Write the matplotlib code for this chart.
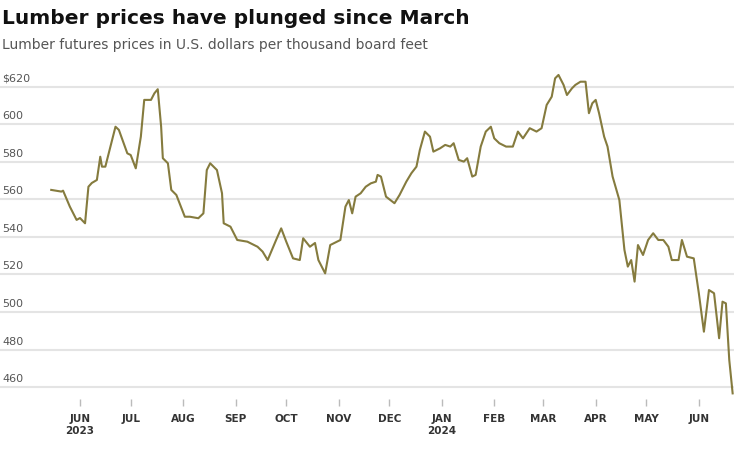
import pandas as pd
import matplotlib.pyplot as plt
import matplotlib.transforms as mtransforms

# Dados (dias desde 1 jun 2023, preco em US$ por mil pes de tabua)
start = pd.Timestamp('2023-06-01')
days = [-17, -11, -10, -6, -2, 0, 3, 5, 7, 10, 12, 13, 15, 18, 21, 23, 28, 30, 33, 36,
        38, 42, 44, 46, 48, 49, 52, 54, 57, 62, 65, 70, 73, 75, 77, 79, 81, 84, 85, 89,
        93, 99, 105, 108, 111, 116, 119, 122, 126, 130, 132, 136, 139, 141, 145, 148, 152, 154, 157, 159,
        161, 163, 166, 169, 172, 175, 176, 178, 181, 186, 189, 193, 196, 199, 201, 204, 207, 209, 213, 216,
        219, 221, 224, 227, 229, 232, 234, 237, 240, 243, 245, 248, 252, 256, 259, 262, 266, 270, 273, 276,
        279, 281, 283, 286, 288, 291, 293, 296, 299, 301, 303, 305, 307, 310, 312, 315, 319, 322, 324, 326,
        328, 330, 333, 336, 339, 342, 345, 348, 350, 354, 356, 359, 363, 366, 369, 372, 375, 378, 380, 382,
        384, 386]
price = [565.1, 564.2, 564.7, 556.2, 549.1, 550.1, 547.3, 566.8, 568.8, 570.4, 582.8, 577.5, 577.5, 588.2, 598.8, 597.1, 584.6, 583.7, 576.6, 593.5,
         613.1, 613.1, 616.6, 618.8, 598.8, 582.0, 579.3, 565.1, 562.4, 550.8, 550.8, 550.0, 552.6, 575.7, 579.3, 577.5, 575.7, 563.3, 547.3, 545.5,
         538.4, 537.5, 534.8, 532.2, 527.7, 538.4, 544.6, 537.5, 528.6, 527.7, 539.3, 534.8, 536.8, 527.7, 520.6, 535.7, 537.5, 538.4, 556.2, 559.7,
         552.6, 561.5, 563.3, 566.8, 568.6, 569.5, 573.1, 572.2, 561.5, 558.0, 562.4, 569.5, 574.0, 577.5, 586.4, 596.2, 593.5, 585.5, 587.3, 589.1,
         588.2, 590.0, 581.1, 580.2, 582.0, 572.2, 573.1, 588.2, 596.2, 598.8, 592.6, 590.0, 588.2, 588.2, 596.2, 592.6, 598.0, 596.2, 598.0, 610.4,
         614.8, 624.6, 626.4, 621.1, 615.7, 619.3, 621.1, 622.8, 622.8, 606.0, 611.3, 613.1, 606.0, 593.5, 588.2, 572.2, 559.7, 533.1, 524.2, 527.7,
         516.2, 535.7, 530.4, 538.4, 542.0, 538.4, 538.4, 534.8, 527.7, 527.7, 538.4, 529.5, 528.6, 510.0, 489.5, 511.7, 510.0, 486.0, 505.5, 504.6,
         474.4, 456.6]

y_ticks = [460, 480, 500, 520, 540, 560, 580, 600, 620]
y_labels = ['460', '480', '500', '520', '540', '560', '580', '600', '$620']
month_ticks = pd.date_range('2023-06-01', '2024-06-01', freq='MS')
month_labels = ['JUN\n2023', 'JUL', 'AUG', 'SEP', 'OCT', 'NOV', 'DEC',
                'JAN\n2024', 'FEB', 'MAR', 'APR', 'MAY', 'JUN']

dates = start + pd.to_timedelta(days, unit='D')

fig = plt.figure(figsize=(7.34, 4.58), dpi=100)
ax = fig.add_axes([0, 0.1288, 1, 0.7358])

ax.plot(dates, price, color='#857b3e', linewidth=1.5, zorder=3)

ax.set_xlim(start - pd.Timedelta(days=47.3), start + pd.Timedelta(days=386.8))
ax.set_ylim(453.6, 633.3)

# Grade horizontal
ax.set_yticks(y_ticks)
ax.grid(axis='y', color='#e4e4e4', linewidth=1.5)
ax.set_axisbelow(True)
ax.tick_params(axis='y', left=False, labelleft=False)

# Rotulos do eixo y acima das linhas
trans = mtransforms.blended_transform_factory(ax.transAxes, ax.transData)
trans = mtransforms.offset_copy(trans, fig=fig, y=3, units='dots')
for v, lab in zip(y_ticks, y_labels):
    ax.text(2 / 734, v, lab, transform=trans, ha='left', va='bottom',
            fontsize=8, color='#555555')

# Eixo x
ax.set_xticks(month_ticks)
ax.set_xticklabels(month_labels, fontsize=7.5, color='#333333', fontweight='bold')
ax.tick_params(axis='x', length=5, width=1, color='#bbbbbb', pad=6)

for s in ax.spines.values():
    s.set_visible(False)

fig.text(2 / 734, 1 - 18 / 458, 'Lumber prices have plunged since March',
         fontsize=14.5, fontweight='bold', color='#111111', va='center')
fig.text(2 / 734, 1 - 45 / 458, 'Lumber futures prices in U.S. dollars per thousand board feet',
         fontsize=10, color='#555555', va='center')

fig.savefig('out.png', dpi=100)
